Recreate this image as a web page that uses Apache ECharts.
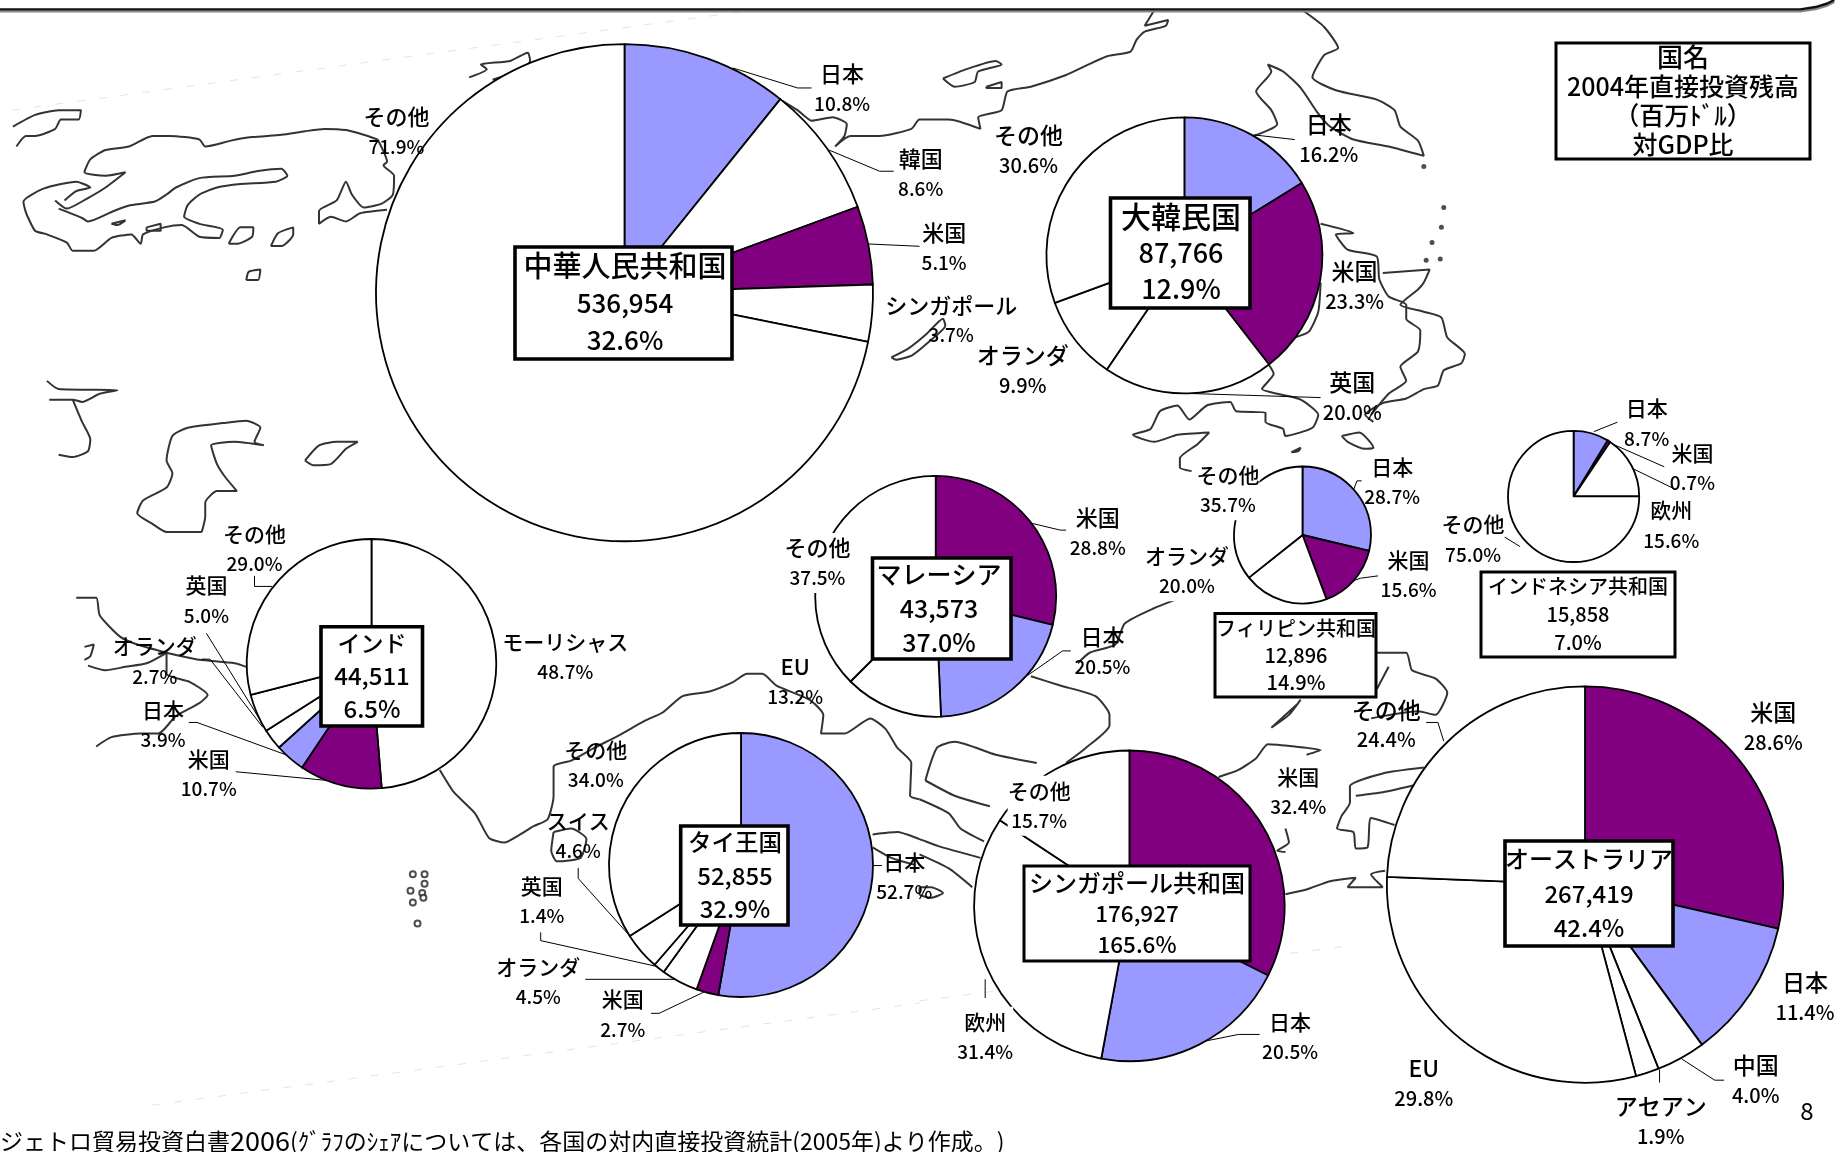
<!DOCTYPE html>
<html><head><meta charset="utf-8">
<style>html,body{margin:0;padding:0;background:#fff}#c{width:1839px;height:1152px}</style>
<script src="https://cdn.jsdelivr.net/npm/echarts@6/dist/echarts.min.js"></script>
</head><body><div id="c"></div>
<script>
// ---------- data ----------
const chinaNames = ['日本','韓国','米国','シンガポール','その他'];
const chinaShares = [10.8,8.6,5.1,3.7,71.9];
const koreaNames = ['日本','米国','英国','オランダ','その他'];
const koreaShares = [16.2,23.3,20.0,9.9,30.6];
const philippinesNames = ['日本','米国','オランダ','その他'];
const philippinesShares = [28.7,15.6,20.0,35.7];
const indonesiaNames = ['日本','米国','欧州','その他'];
const indonesiaShares = [8.7,0.7,15.6,75.0];
const malaysiaNames = ['米国','日本','EU','その他'];
const malaysiaShares = [28.8,20.5,13.2,37.5];
const indiaNames = ['モーリシャス','米国','日本','オランダ','英国','その他'];
const indiaShares = [48.7,10.7,3.9,2.7,5.0,29.0];
const thailandNames = ['日本','米国','オランダ','英国','スイス','その他'];
const thailandShares = [52.7,2.7,4.5,1.4,4.6,34.0];
const singaporeNames = ['米国','日本','欧州','その他'];
const singaporeShares = [32.4,20.5,31.4,15.7];
const australiaNames = ['米国','日本','中国','アセアン','EU','その他'];
const australiaShares = [28.6,11.4,4.0,1.9,29.8,24.4];

const countryTitles = ['中華人民共和国','大韓民国','フィリピン共和国','インドネシア共和国','マレーシア','インド','タイ王国','シンガポール共和国','オーストラリア'];
const fdiStock = ['536,954','87,766','12,896','15,858','43,573','44,511','52,855','176,927','267,419'];
const fdiToGdp = ['32.6%','12.9%','14.9%','7.0%','37.0%','6.5%','32.9%','165.6%','42.4%'];
const legendLines = ['国名','2004年直接投資残高','（百万ﾄﾞﾙ）','対GDP比'];
const footnoteHead = 'ジェトロ貿易投資白書';
const footnoteYear = '2006';
const footnoteTail = '(ｸﾞﾗﾌのｼｪｱについては、各国の対内直接投資統計(2005年)より作成。)';
const pageNumber = '8';

// ---------- background map, in picture units (1568 x 983) ----------
const coastPieces = [
 [[11,108],[30,98],[50,94],[69,94],[67,102],[52,102],[47,110],[30,116],[22,116],[14,125]],
 [[322,119],[310,115],[295,111],[277,110],[260,112],[240,115],[215,117],[197,120],[175,125],[170,119],[145,116],[130,116],[110,125],[90,128],[77,136],[72,147],[90,150],[107,147],[90,160],[75,169],[57,178],[47,171]],
 [[50,178],[70,186],[75,189],[97,180],[112,175],[132,172],[142,166],[150,160],[170,152],[200,150],[220,146],[240,144],[245,150],[235,155],[205,157],[185,160],[170,166],[160,175],[157,185],[170,191],[190,196],[187,203],[170,202],[155,192],[140,194],[122,200],[120,208],[112,200],[95,203],[80,214],[62,214],[57,207],[40,200],[30,197],[25,188],[22,181],[20,172],[37,161],[65,155],[77,160],[65,163],[55,171]],
 [[95,191],[107,188],[100,192],[95,191]],
 [[125,194],[137,191],[137,197],[125,197],[125,194]],
 [[195,208],[205,194],[216,194],[215,202],[202,208],[195,208]],
 [[231,210],[237,199],[250,194],[250,200],[240,210],[231,210]],
 [[210,239],[212,232],[222,230],[220,239],[210,239]],
 [[322,119],[330,138],[327,141],[336,150],[335,166],[325,174],[310,177],[300,166],[295,155],[287,171],[272,180],[272,191],[282,185],[295,189],[307,182],[330,179]],
 [[400,66],[415,59],[410,55],[435,52],[450,45],[452,52],[440,61],[420,68]],
 [[667,86],[680,94],[692,103],[710,100],[722,106],[720,116],[712,125],[725,116],[750,116],[777,110],[784,102],[809,102],[836,110],[834,100],[854,94],[859,78],[879,74],[909,64],[926,56],[944,48],[964,44],[969,34],[976,27],[994,22],[996,17],[976,22],[984,9]],
 [[804,67],[824,59],[849,52],[854,55],[834,61],[831,70],[814,74],[804,67]],
 [[841,74],[854,70],[854,75],[841,75],[841,74]],
 [[1111,9],[1129,23],[1141,41],[1129,47],[1119,66],[1139,77],[1174,85],[1189,94],[1194,108],[1209,120],[1214,133],[1184,125],[1154,119],[1134,108],[1124,97],[1109,75],[1094,61],[1081,55],[1084,61],[1071,78],[1084,94],[1089,106],[1069,116]],
 [[1126,191],[1154,199],[1139,200],[1149,213],[1174,219],[1176,238],[1184,253],[1199,260],[1199,272],[1211,282],[1209,300],[1194,313],[1199,325],[1184,336],[1169,354]],
 [[1179,233],[1219,230],[1214,241],[1209,247],[1194,260],[1214,266],[1229,271],[1234,288],[1249,302],[1246,310],[1231,316],[1226,329],[1214,332],[1199,340],[1179,344],[1164,354],[1171,360]],
 [[1144,372],[1159,369],[1171,382],[1164,383],[1149,377],[1144,372]],
 [[1126,241],[1124,266],[1116,283],[1104,288]],
 [[1081,310],[1086,319],[1076,332],[1089,336],[1109,341],[1124,354],[1119,365],[1096,372],[1094,366],[1079,360],[1079,352],[1054,351],[1049,343],[1029,346],[1014,358],[1004,346],[989,351],[981,366],[966,371],[984,377],[1004,371],[1031,369],[1021,379],[1006,391],[1006,399],[1016,402]],
 [[1101,386],[1109,382],[1107,385],[1101,386]],
 [[1041,490],[1039,493],[1014,507],[984,519],[959,532],[951,550],[929,557],[919,566]],
 [[879,577],[904,585],[934,594],[946,610],[946,619],[926,638],[909,651]],
 [[789,666],[799,638],[814,633],[849,644],[884,651]],
 [[789,666],[814,679],[844,688]],
 [[784,682],[809,694],[819,707],[839,718]],
 [[784,729],[809,741],[829,757]],
 [[744,712],[765,710],[784,716],[800,722],[836,732]],
 [[744,723],[760,732],[780,738]],
 [[784,757],[794,757],[804,762],[794,766],[784,763],[784,757]],
 [[375,657],[387,676],[405,694],[417,715],[430,719],[442,713],[455,705],[467,699],[472,679],[472,654],[487,649],[507,638],[525,629],[550,615],[565,608],[582,594],[605,590],[625,582],[637,575],[650,575],[662,585],[690,597],[702,610],[700,626],[720,626],[742,613],[755,622],[765,638],[777,651],[776,679],[784,682]],
 [[472,710],[487,707],[500,716],[495,732],[475,735],[470,726],[472,710]],
 [[65,510],[82,510],[85,525],[102,543],[117,550],[142,557],[155,560],[170,563],[200,566],[210,569]],
 [[142,557],[125,566],[107,569],[90,572],[75,568]],
 [[72,552],[80,550],[77,560],[72,563]],
 [[142,557],[142,575],[162,582],[177,593],[170,600],[150,611],[135,626],[120,626],[95,629],[82,637]],
 [[40,325],[50,332],[100,333],[85,336],[70,343],[62,341],[42,341]],
 [[62,341],[70,360],[77,375],[75,385],[62,390],[50,388]],
 [[172,454],[142,454],[130,447],[117,438],[122,427],[142,416],[147,404],[142,393],[147,372],[160,365],[190,361],[210,359],[222,365],[217,377],[225,380],[200,377],[180,380],[185,396],[192,407],[202,419],[185,419],[175,429],[175,441],[172,454]],
 [[260,393],[272,380],[287,377],[305,377],[295,383],[282,396],[267,397],[260,393]],
 [[760,305],[775,297],[790,285],[804,272],[806,278],[794,290],[778,303],[764,307],[760,305]],
 [[1039,663],[1056,657],[1071,647],[1081,635],[1104,637],[1126,640],[1114,644]],
 [[1096,707],[1099,719],[1089,726],[1096,727]],
 [[1096,763],[1114,759],[1134,752],[1156,749],[1149,757],[1179,757],[1169,746],[1181,743]],
 [[1214,655],[1179,660],[1151,671],[1151,685],[1144,696],[1140,707],[1154,710],[1156,724],[1166,723],[1169,698],[1189,704]],
 [[1211,669],[1179,676],[1156,679]],
 [[1174,557],[1199,557],[1204,572],[1224,579],[1234,591],[1224,610],[1209,607],[1169,613]],
 [[1184,569],[1174,588]],
 [[1109,597],[1099,610],[1084,621],[1106,601]]
];
const smallIslands = [[1231,177],[1229,194],[1221,207],[1216,222],[1228,221],[1214,142]];
const atolls = [[352,746],[362,746],[362,754],[350,760],[360,762],[352,770],[361,766],[356,788]];
const frameLine = [[0,8],[1535,8],[1548,6],[1558,3],[1564,0]];
const mapEdgeLines = [
 [[10,94],[640,9]],
 [[130,943],[784,856]],
 [[784,854],[1150,807]]
];

// ---------- layout ----------
const S = 1839/1568;            // picture units to page pixels
const BLUE='#9999FF', PURPLE='#800080';
function sliceColor(n){ return n==='日本'?BLUE : n==='米国'?PURPLE : '#fff'; }

const pieLayouts = [
 {names:chinaNames,shares:chinaShares,c:[624.5,292.7],r:248.5,fn:22,fp:19,
  box:[515,247,217,112],fs:[29,26],lh:37.5,cx:625,
  pos:[[718,76],[785,148],[805,211],[811,273],[338,112]],
  lead:[[[625,58],[680,75],[692,75]],[[707,128],[750,146],[762,146]],[[740,208],[784,210]],null,null],bg:[]},
 {names:koreaNames,shares:koreaShares,c:[1184.4,255.4],r:138,fn:23,fp:20,
  box:[1110.5,198,139.5,110],fs:[30,27],lh:36,cx:1181,
  pos:[[1133,119],[1155,244],[1153,339],[872,316],[877,128]],
  lead:[[[1069,115],[1104,119]],null,[[999,335],[1126,339]],null,null],bg:[]},
 {names:philippinesNames,shares:philippinesShares,c:[1302.5,535],r:68.5,fn:21,fp:19,
  box:[1215,613.5,161,83.5],fs:[20,20],lh:27,cx:1296,
  pos:[[1187,411],[1201,490],[1012,487],[1047,418]],
  lead:[[[1151,426],[1157,410],[1161,410]],[[1146,498],[1160,493],[1175,491]],null,null],bg:[2,3]},
 {names:indonesiaNames,shares:indonesiaShares,c:[1573.6,496.4],r:65.6,fn:21,fp:19,
  box:[1481,572,194,85],fs:[20,20],lh:28,cx:1578,
  pos:[[1404,361],[1443,399],[1425,448],[1256,460]],
  lead:[[[1359,368],[1379,360]],[[1369,376],[1419,398]],[[1391,399],[1426,416]],[[1283,458],[1296,466]]],bg:[]},
 {names:malaysiaNames,shares:malaysiaShares,c:[935.7,596.3],r:120.5,fn:22,fp:19,
  box:[872.5,558,138.5,101],fs:[25,25],lh:34,cx:939,
  pos:[[936,454],[940,556],[678,581],[697,480]],
  lead:[[[879,446],[904,452],[909,452]],[[876,576],[906,555],[913,555]],null,null],bg:[3]},
 {names:indiaNames,shares:indiaShares,c:[371.5,663.8],r:124.8,fn:21,fp:19,
  box:[321,626.7,101.5,99.3],fs:[23,24],lh:33,cx:372,
  pos:[[482,560],[178,660],[139,618],[132,564],[176,512],[217,468]],
  lead:[null,[[201,658],[285,666]],[[161,616],[168,616],[245,644]],[[172,562],[179,562],[224,620]],[[176,540],[225,619]],[[217,491],[217,500],[232,500]]],bg:[]},
 {names:thailandNames,shares:thailandShares,c:[741,865],r:132,fn:21,fp:19,
  box:[680.7,826,107.3,99],fs:[23.5,24],lh:33,cx:735,
  pos:[[771,748],[531,865],[459,837],[462,768],[493,713],[508,652]],
  lead:[[[745,738],[752,738]],[[602,845],[562,864],[555,864]],[[578,835],[499,835]],[[560,824],[461,802],[461,795]],[[537,798],[493,749],[493,740]],null],bg:[]},
 {names:singaporeNames,shares:singaporeShares,c:[1129.4,905.8],r:155.3,fn:21,fp:19,
  box:[1024,866,226,95],fs:[24,22.5],lh:31,cx:1137,
  pos:[[1107,675],[1100,884],[840,884],[886,687]],
  lead:[null,[[1021,889],[1056,882],[1074,882]],[[840,835],[840,851]],null],bg:[2,3]},
 {names:australiaNames,shares:australiaShares,c:[1585,884.6],r:198.2,fn:23,fp:20,
  box:[1505,841,168,105],fs:[24,24],lh:34.5,cx:1589,
  pos:[[1512,620],[1539,850],[1497,921],[1416,956],[1214,924],[1182,618]],
  lead:[null,null,[[1434,903],[1462,921],[1470,921]],[[1415,912],[1415,923]],null,[[1231,632],[1226,616],[1216,616]]],bg:[]}
];

const FONT = '"Noto Sans CJK JP","Noto Sans",sans-serif';
const WEIGHT = 500;
const series = [];

coastPieces.forEach(function(p,i){
  series.push({type:'line',name:'coast'+i,data:p,symbol:'none',silent:true,animation:false,z:1,smooth:0.2,
    lineStyle:{color:'#333',width:2},clip:false});
});
mapEdgeLines.forEach(function(p,i){
  series.push({type:'line',name:'edge'+i,data:p,symbol:'none',silent:true,animation:false,z:1,
    lineStyle:{color:'#e4e4e4',width:1,type:[8,14]}});
});
series.push({type:'line',name:'frame',data:frameLine,symbol:'none',silent:true,animation:false,z:1,
  lineStyle:{color:'#111',width:2.4,shadowColor:'#888',shadowBlur:0,shadowOffsetY:2}});
series.push({type:'scatter',name:'islands',data:smallIslands,symbolSize:5,silent:true,animation:false,z:1,
  itemStyle:{color:'#222'}});
series.push({type:'scatter',name:'atolls',data:atolls,symbolSize:6,silent:true,animation:false,z:1,
  itemStyle:{color:'#fff',borderColor:'#222',borderWidth:2}});

pieLayouts.forEach(function(P,k){
  series.push({
    type:'pie',name:countryTitles[k],center:P.c,radius:[0,P.r],startAngle:90,clockwise:true,
    animation:false,silent:true,z:2,avoidLabelOverlap:false,minShowLabelAngle:0,percentPrecision:1,
    itemStyle:{borderColor:'#000',borderWidth:1.8},
    label:{show:true,position:'outside',color:'#000',fontFamily:FONT,
      formatter:function(p){return '{n|'+p.name+'}\n{p|'+p.value.toFixed(1)+'%}';},
      rich:{n:{fontSize:P.fn,lineHeight:30,fontFamily:FONT,fontWeight:WEIGHT,color:'#000',align:'center'},
            p:{fontSize:P.fp,lineHeight:30,fontFamily:FONT,fontWeight:WEIGHT,color:'#000',align:'center'}}},
    labelLine:{show:true,lineStyle:{color:'#000',width:1}},
    labelLayout:function(prm){
      const i=prm.dataIndex, q=P.pos[i], L=P.lead[i];
      const o={x:q[0]*S,y:q[1]*S,align:'center',verticalAlign:'middle'};
      if(L) o.labelLinePoints=L.map(function(a){return [a[0]*S,a[1]*S];});
      return o;
    },
    data:P.names.map(function(n,i){
      const item={name:n,value:P.shares[i],itemStyle:{color:sliceColor(n)}};
      item.labelLine={show:!!P.lead[i]};
      if(P.bg.indexOf(i)>=0) item.label={backgroundColor:'#fff'};
      return item;
    })
  });
});

const graphics=[];
function addBox(b,lines,sizes,lh,cx,bw){
  graphics.push({type:'rect',z:50,silent:true,shape:{x:b[0],y:b[1],width:b[2],height:b[3]},
    style:{fill:'#fff',stroke:'#000',lineWidth:bw}});
  const mid=b[1]+b[3]/2, n=lines.length;
  lines.forEach(function(t,i){
    graphics.push({type:'text',z:51,silent:true,
      style:{text:t,x:cx,y:mid+(i-(n-1)/2)*lh,align:'center',verticalAlign:'middle',
        fontFamily:FONT,fontWeight:WEIGHT,fontSize:sizes[i],fill:'#000'}});
  });
}
pieLayouts.forEach(function(P,k){
  const bw = P.box[3]>95?3.6:3;
  addBox(P.box,[countryTitles[k],fdiStock[k],fdiToGdp[k]],[P.fs[0],P.fs[1],P.fs[1]],P.lh,P.cx,bw);
});
addBox([1556,43,254,116],legendLines,[26,25,25,25],29,1683,3);
graphics.push({type:'text',z:51,silent:true,style:{
  text:'{a|'+footnoteHead+'}{y|'+footnoteYear+'}{a|'+footnoteTail+'}',x:0,y:1141,align:'left',verticalAlign:'middle',
  fontFamily:FONT,fontSize:23,fill:'#000',
  rich:{a:{fontFamily:FONT,fontSize:23,fill:'#000'},y:{fontFamily:FONT,fontSize:27,fill:'#000'}}}});
graphics.push({type:'text',z:51,silent:true,style:{text:pageNumber,x:1807,y:1111,align:'center',verticalAlign:'middle',fontFamily:FONT,fontSize:24,fill:'#000'}});

const chart=echarts.init(document.getElementById('c'),null,{renderer:'canvas'});
chart.setOption({
  animation:false,backgroundColor:'#fff',
  grid:{left:0,right:0,top:0,bottom:0,containLabel:false},
  xAxis:{type:'value',min:0,max:1568,show:false},
  yAxis:{type:'value',min:0,max:983,inverse:true,show:false},
  series:series,
  graphic:{elements:graphics}
});
</script></body></html>
